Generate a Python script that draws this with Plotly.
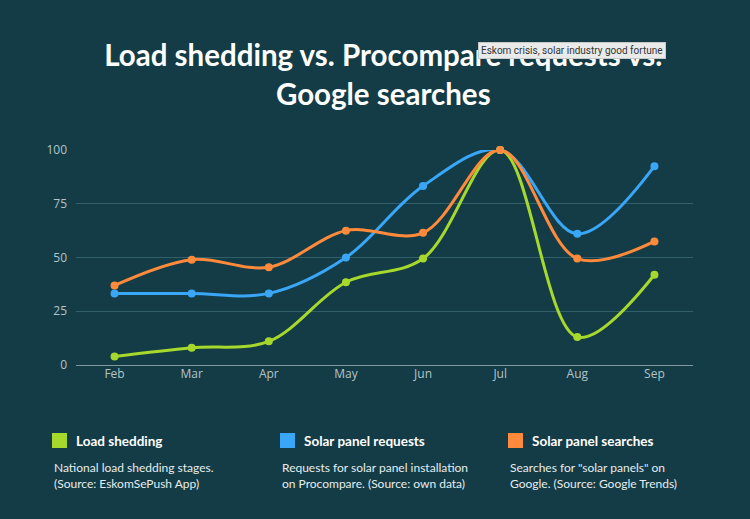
import plotly.graph_objects as go

months = ["Feb", "Mar", "Apr", "May", "Jun", "Jul", "Aug", "Sep"]
load_shedding = [4, 8, 11, 38.5, 49.5, 100, 13, 42]
solar_requests = [33.3, 33.3, 33.3, 50, 83.3, 100, 61, 92.5]
solar_searches = [37, 49, 45.5, 62.5, 61.5, 100, 49.5, 57.5]

series_names = ["Load shedding", "Solar panel requests", "Solar panel searches"]
series_desc = [
    "National load shedding stages.<br>(Source: EskomSePush App)",
    "Requests for solar panel installation<br>on Procompare. (Source: own data)",
    "Searches for \"solar panels\" on<br>Google. (Source: Google Trends)",
]
colors = ["#a6d92b", "#3aa6f7", "#ff8a3b"]
y_ticks = [0, 25, 50, 75, 100]

BG = "#133c46"
x_idx = list(range(len(months)))

fig = go.Figure()
for vals, name, col in [(solar_requests, series_names[1], colors[1]),
                        (load_shedding, series_names[0], colors[0]),
                        (solar_searches, series_names[2], colors[2])]:
    fig.add_trace(go.Scatter(
        x=x_idx, y=vals, name=name, mode="lines+markers",
        line=dict(color=col, width=3, shape="spline", smoothing=1.0),
        marker=dict(color=col, size=8),
        cliponaxis=False, hoverinfo="skip",
    ))

fig.update_layout(
    width=750, height=519,
    paper_bgcolor=BG, plot_bgcolor=BG,
    margin=dict(l=76, r=57, t=150, b=154),
    showlegend=False,
    title=dict(
        text="<b>Load shedding vs. Procompare requests vs.<br>Google searches</b>",
        x=0.511, xanchor="center", y=0.872, yanchor="middle",
        font=dict(family="Lato", size=29.5, color="#ffffff"),
    ),
    xaxis=dict(
        range=[-0.5, 7.5], tickmode="array", tickvals=x_idx, ticktext=months,
        showgrid=False, zeroline=False, showline=False, ticks="",
        tickfont=dict(family="Open Sans", size=12, color="#b3c4c8"),
    ),
    yaxis=dict(
        range=[0, 100], tickmode="array", tickvals=y_ticks,
        ticktext=[str(v) for v in y_ticks],
        showgrid=True, gridcolor="#31606a", gridwidth=1,
        zeroline=True, zerolinecolor="#7d979d", zerolinewidth=1,
        showline=False, ticks="", ticklabelstandoff=8,
        tickfont=dict(family="Open Sans", size=12, color="#b3c4c8"),
    ),
)

# custom legend
legend_x = [52, 280, 508]
for i in range(3):
    x0 = legend_x[i]
    fig.add_shape(type="rect", xref="paper", yref="paper",
                  x0=(x0 - 76) / 617, x1=(x0 + 15 - 76) / 617,
                  y0=(365 - 448) / 215, y1=(365 - 433) / 215,
                  fillcolor=colors[i], line=dict(width=0), layer="above")
    fig.add_annotation(xref="paper", yref="paper",
                       x=(x0 + 22 - 76) / 617, y=(365 - 441) / 215,
                       xanchor="left", yanchor="middle", showarrow=False,
                       text="<b>" + series_names[i] + "</b>",
                       font=dict(family="Lato", size=13.5, color="#ffffff"))
    fig.add_annotation(xref="paper", yref="paper",
                       x=(x0 - 76) / 617, y=(365 - 458) / 215,
                       xanchor="left", yanchor="top", showarrow=False, align="left",
                       text=series_desc[i],
                       font=dict(family="Lato", size=12, color="#e6ecee"))

# browser tooltip seen in the screenshot
fig.add_annotation(xref="paper", yref="paper",
                   x=(478 - 76) / 617, y=(365 - 50) / 215,
                   xanchor="left", yanchor="middle", showarrow=False,
                   text="Eskom crisis, solar industry good fortune",
                   font=dict(family="Roboto", size=10, color="#333333"),
                   bgcolor="#e9ebeb", bordercolor="#c8c8c8", borderwidth=1, borderpad=2)

fig.write_html("out.html")
